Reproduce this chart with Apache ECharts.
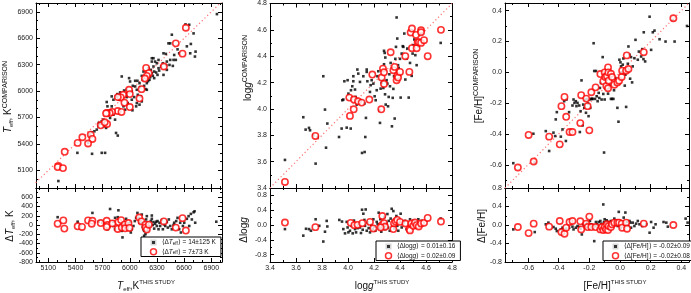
<!DOCTYPE html>
<html><head><meta charset="utf-8">
<script src="https://cdn.jsdelivr.net/npm/echarts@6.0.0/dist/echarts.min.js"></script>
<style>html,body{margin:0;padding:0;background:#fff}#c{width:691px;height:293px}</style>
</head><body><div id="c"></div>
<script>
// ---------- DATA ----------
// Panel 1: Teff (K)
const teffTopAll = [[6962,6874],[6615,6757],[6656,6753],[6704,6655],[6464,6640],[6674,6535],[6630,6508],[6427,6542],[6446,6542],[6527,6474],[6726,6448],[6719,6392],[6667,6429],[6545,6429],[6490,6410],[6398,6422],[6483,6354],[6508,6354],[6446,6354],[6409,6335],[6365,6316],[6402,6294],[6438,6297],[6475,6286],[6317,6354],[6280,6335],[6243,6335],[6298,6316],[6317,6260],[6261,6279],[6232,6241],[6269,6222],[6243,6203],[6291,6211],[6254,6173],[6225,6158],[6269,6147],[6217,6128],[6151,6222],[6132,6173],[6143,6128],[6188,6090],[6202,6113],[6306,6184],[6372,6184],[6409,6241],[5911,6166],[5992,6147],[6003,6109],[6059,6117],[6084,6117],[6107,6090],[6033,6060],[6059,6053],[6114,6045],[6158,6060],[6173,6023],[6188,6015],[6077,6015],[6022,5996],[5966,6015],[5937,6007],[5893,5985],[5863,5966],[5848,5940],[5800,5940],[5819,5902],[5878,5902],[5966,5932],[6022,5902],[6048,5932],[6088,5958],[6121,5940],[6077,5864],[6107,5846],[6132,5883],[6029,5782],[6070,5827],[5977,5864],[5948,5789],[5930,5827],[5745,5876],[5753,5827],[5800,5827],[5819,5733],[5782,5695],[5837,5676],[5708,5676],[5690,5657],[5671,5631],[5727,5620],[5738,5582],[5653,5601],[5635,5563],[5609,5544],[5579,5533],[5554,5507],[5572,5488],[5539,5412],[5421,5299],[5583,5288],[5690,5299],[5727,5299],[5848,5525],[5867,5495],[5211,4979],[6243,6373],[6261,6373],[6372,6429],[5657,5638],[5712,5601],[6324,6233],[6346,6279],[6206,6260],[5966,5958]];
const teffTopSel = [[6619,6719],[6508,6542],[6582,6425],[6376,6279],[6180,6263],[6210,6203],[6188,6173],[6166,6143],[6129,6022],[5992,6015],[6000,5966],[6107,5917],[5926,5958],[5900,5928],[5867,5932],[5941,5868],[6000,5819],[5867,5774],[5908,5763],[5804,5763],[5778,5751],[5745,5751],[5738,5747],[5749,5627],[5679,5612],[5723,5646],[5568,5506],[5587,5457],[5476,5476],[5539,5405],[5424,5412],[5281,5311],[5211,5149],[5203,5137],[5262,5126]];
const teffResAll = [[5203,169],[5424,71],[5587,261],[5657,71],[5697,49],[5738,28],[5782,346],[5753,-92],[5819,71],[5819,-21],[5867,169],[5874,318],[5919,-268],[5911,-127],[5930,49],[5959,134],[5985,35],[6003,64],[6011,-162],[6022,-92],[6040,-21],[6055,85],[6070,155],[6084,261],[6096,155],[6107,49],[6114,134],[6132,226],[6132,49],[6143,-42],[6151,-92],[6158,-127],[6180,120],[6188,191],[6202,49],[6217,-21],[6232,85],[6243,134],[6254,0],[6261,64],[6269,-78],[6280,28],[6291,71],[6298,-21],[6306,85],[6317,-92],[6328,49],[6335,-21],[6354,106],[6365,-92],[6379,14],[6391,-21],[6409,64],[6420,-56],[6431,120],[6446,-21],[6464,-92],[6483,0],[6490,49],[6512,85],[6527,155],[6545,-92],[6556,49],[6564,-162],[6586,-21],[6601,49],[6630,134],[6649,191],[6656,-21],[6674,240],[6685,120],[6704,275],[6715,297],[6722,49],[6955,71],[6243,205],[6195,-127],[6173,-198],[6158,-233],[5930,-56],[5837,-92],[5837,155]];
const teffResSel = [[5203,28],[5266,99],[5277,-78],[5424,-28],[5472,-42],[5539,99],[5587,92],[5579,28],[5679,42],[5745,92],[5753,0],[5745,-42],[5808,35],[5867,-85],[5874,64],[5904,106],[5911,-56],[5944,14],[5948,-71],[5985,42],[5996,-64],[6103,162],[6129,78],[6173,7],[6173,-56],[6188,-99],[6210,7],[6376,78],[6508,-56],[6582,148],[6619,-120]];
const teffTicks = [5100,5400,5700,6000,6300,6600,6900];
const teffMinor = [5000,5200,5300,5500,5600,5800,5900,6100,6200,6400,6500,6700,6800,7000];
const teffResTicks = [-800,-600,-400,-200,0,200,400,600];
const teffResMinor = [-700,-500,-300,-100,100,300,500,700];

// Panel 2: log g
const loggTopAll = [[3.515,3.613],[3.656,3.937],[3.674,3.843],[3.708,3.838],[3.700,3.856],[3.733,3.800],[3.767,3.787],[3.751,3.585],[3.810,4.248],[3.823,3.995],[3.831,3.706],[3.841,3.889],[3.931,3.787],[3.951,3.851],[3.956,4.066],[3.964,4.071],[3.972,4.210],[3.997,4.218],[3.990,3.858],[4.003,4.116],[4.021,3.851],[4.023,4.142],[4.033,4.172],[4.041,4.210],[4.041,4.248],[4.054,4.147],[4.059,4.091],[4.067,4.033],[4.072,4.299],[4.079,4.268],[4.092,4.205],[4.100,4.066],[4.108,3.666],[4.118,4.248],[4.126,4.041],[4.128,3.673],[4.133,3.787],[4.138,3.932],[4.144,4.281],[4.149,4.210],[4.144,4.299],[4.169,4.129],[4.174,4.180],[4.182,4.218],[4.195,4.192],[4.205,4.096],[4.213,4.066],[4.221,4.142],[4.226,4.248],[4.233,4.286],[4.241,3.990],[4.246,3.894],[4.251,4.154],[4.259,4.197],[4.267,4.218],[4.272,4.159],[4.277,4.339],[4.277,4.441],[4.282,4.425],[4.287,4.390],[4.285,4.111],[4.290,4.033],[4.292,4.205],[4.297,4.218],[4.303,4.192],[4.308,4.020],[4.313,4.091],[4.318,4.263],[4.323,4.172],[4.328,4.349],[4.338,3.868],[4.344,4.084],[4.349,4.152],[4.354,4.248],[4.359,3.927],[4.364,4.380],[4.369,4.471],[4.374,4.694],[4.379,4.534],[4.385,4.332],[4.390,4.311],[4.400,4.380],[4.405,4.086],[4.413,4.420],[4.421,4.476],[4.426,4.471],[4.433,4.572],[4.441,4.223],[4.451,4.382],[4.456,4.458],[4.467,4.086],[4.477,4.349],[4.490,4.251],[4.497,4.420],[4.503,4.484],[4.510,4.527],[4.518,4.408],[4.528,4.332],[4.541,4.476],[4.554,4.491],[4.567,4.572],[4.713,4.501]];
const loggTopSel = [[3.515,3.446],[3.749,3.795],[4.015,3.947],[4.010,4.086],[4.046,4.071],[4.077,4.058],[4.105,4.048],[4.044,3.997],[4.164,4.071],[4.187,4.261],[4.256,3.997],[4.259,4.238],[4.269,4.306],[4.277,4.278],[4.277,4.190],[4.328,4.430],[4.349,4.294],[4.359,4.319],[4.374,4.218],[4.379,4.251],[4.385,4.238],[4.400,4.281],[4.441,4.400],[4.472,4.281],[4.482,4.580],[4.492,4.610],[4.492,4.461],[4.523,4.562],[4.528,4.461],[4.536,4.506],[4.546,4.506],[4.562,4.597],[4.562,4.582],[4.562,4.501],[4.585,4.522],[4.613,4.400],[4.715,4.600]];
const loggResAll = [[3.515,-0.111],[3.656,-0.288],[3.677,-0.102],[3.700,-0.111],[3.715,-0.155],[3.751,0.155],[3.779,-0.022],[3.810,-0.447],[3.823,-0.181],[3.836,0.111],[3.841,-0.040],[3.933,0.137],[3.954,0.093],[3.964,-0.111],[3.977,-0.226],[3.990,0.084],[3.997,-0.066],[4.003,-0.199],[4.015,-0.155],[4.028,-0.022],[4.036,-0.226],[4.046,0.119],[4.054,-0.111],[4.062,-0.199],[4.074,-0.084],[4.087,0.040],[4.092,-0.066],[4.100,-0.217],[4.108,0.412],[4.113,-0.128],[4.118,0.305],[4.126,0.137],[4.131,-0.022],[4.136,0.420],[4.144,-0.155],[4.151,0.066],[4.159,-0.084],[4.169,-0.199],[4.179,0.004],[4.190,-0.111],[4.195,0.155],[4.203,-0.049],[4.210,-0.155],[4.221,0.084],[4.228,0.022],[4.236,0.332],[4.241,-0.084],[4.249,0.155],[4.256,-0.181],[4.267,0.084],[4.272,-0.022],[4.279,0.217],[4.287,-0.111],[4.295,0.049],[4.303,0.296],[4.308,-0.066],[4.313,0.111],[4.321,-0.155],[4.328,0.173],[4.336,0.438],[4.341,-0.022],[4.349,0.376],[4.356,-0.093],[4.364,0.155],[4.372,0.243],[4.379,-0.022],[4.387,-0.155],[4.395,0.066],[4.405,0.305],[4.413,-0.066],[4.426,0.049],[4.438,0.111],[4.451,-0.111],[4.464,0.022],[4.477,0.155],[4.490,-0.066],[4.503,0.111],[4.515,0.004],[4.528,0.084],[4.541,0.155],[4.554,-0.022],[4.567,0.111],[4.713,0.173]];
const loggResSel = [[3.515,0.066],[3.749,-0.058],[4.021,0.058],[4.049,-0.004],[4.074,0.004],[4.110,0.049],[4.169,0.084],[4.195,-0.093],[4.264,0.243],[4.262,0.004],[4.277,0.049],[4.285,-0.049],[4.349,-0.111],[4.354,0.049],[4.367,0.093],[4.379,0.137],[4.400,0.084],[4.441,0.040],[4.472,-0.111],[4.477,-0.146],[4.487,0.040],[4.503,-0.022],[4.515,0.066],[4.528,-0.004],[4.544,-0.040],[4.562,0.040],[4.585,0.058],[4.613,0.190],[4.715,0.093],[4.251,-0.066]];
const loggTicks = [3.4,3.6,3.8,4.0,4.2,4.4,4.6,4.8];
const loggMinor = [3.5,3.7,3.9,4.1,4.3,4.5,4.7];
const loggResTicks = [-0.8,-0.4,0,0.4,0.8];
const loggResMinor = [-0.6,-0.2,0.2,0.6];

// Panel 3: [Fe/H]
const fehTopAll = [[-0.696,-0.589],[-0.556,-0.585],[-0.565,-0.398],[-0.484,-0.381],[-0.462,-0.510],[-0.434,-0.391],[-0.419,-0.305],[-0.423,-0.413],[-0.412,-0.258],[-0.386,-0.417],[-0.375,-0.370],[-0.364,-0.187],[-0.353,-0.445],[-0.349,-0.176],[-0.332,-0.258],[-0.310,-0.215],[-0.303,-0.176],[-0.297,-0.198],[-0.288,-0.187],[-0.284,-0.219],[-0.277,-0.198],[-0.266,-0.215],[-0.262,-0.387],[-0.257,-0.252],[-0.251,-0.052],[-0.244,-0.344],[-0.240,-0.209],[-0.233,-0.230],[-0.227,-0.176],[-0.222,-0.262],[-0.214,-0.172],[-0.209,-0.202],[-0.205,-0.284],[-0.200,-0.176],[-0.194,-0.230],[-0.187,-0.172],[-0.183,-0.172],[-0.179,-0.172],[-0.172,0.189],[-0.168,0.009],[-0.163,-0.172],[-0.157,0.009],[-0.152,-0.155],[-0.146,-0.187],[-0.139,-0.133],[-0.135,-0.166],[-0.131,-0.101],[-0.124,-0.069],[-0.120,-0.176],[-0.113,0.099],[-0.109,-0.140],[-0.104,-0.520],[-0.100,-0.176],[-0.096,-0.101],[-0.091,-0.069],[-0.087,-0.047],[-0.083,0.013],[-0.078,-0.138],[-0.074,-0.101],[-0.069,-0.037],[-0.065,-0.086],[-0.059,-0.172],[-0.052,-0.172],[-0.043,-0.172],[-0.039,-0.116],[-0.035,-0.080],[-0.030,-0.037],[-0.026,-0.058],[-0.017,-0.230],[-0.010,-0.320],[-0.004,0.082],[0.003,0.065],[0.007,0.039],[0.011,0.000],[0.018,0.050],[0.022,0.090],[0.027,0.017],[0.031,-0.086],[0.035,-0.015],[0.040,-0.224],[0.046,0.013],[0.051,0.056],[0.055,0.168],[0.062,0.114],[0.066,-0.041],[0.072,0.099],[0.079,-0.065],[0.083,0.039],[0.094,0.092],[0.101,0.211],[0.116,0.082],[0.123,0.135],[0.138,0.103],[0.145,0.151],[0.153,0.086],[0.164,0.071],[0.155,0.260],[0.193,0.361],[0.203,0.146],[0.214,0.260],[0.225,0.271],[0.258,0.215],[0.297,0.200],[0.345,0.340],[0.356,0.200],[0.437,0.301]];
const fehTopSel = [[-0.666,-0.617],[-0.596,-0.406],[-0.563,-0.578],[-0.462,-0.417],[-0.393,-0.467],[-0.382,-0.219],[-0.362,-0.159],[-0.351,-0.288],[-0.329,-0.387],[-0.310,-0.387],[-0.259,-0.329],[-0.253,-0.148],[-0.220,-0.170],[-0.211,-0.219],[-0.200,-0.376],[-0.187,-0.129],[-0.159,-0.097],[-0.128,-0.011],[-0.109,-0.058],[-0.100,0.000],[-0.096,-0.030],[-0.089,-0.088],[-0.085,-0.024],[-0.078,0.032],[-0.076,0.000],[-0.078,-0.103],[-0.074,-0.054],[-0.059,-0.009],[-0.052,-0.030],[-0.037,-0.080],[-0.017,-0.065],[-0.006,-0.054],[0.011,-0.030],[0.014,0.011],[0.040,0.011],[0.055,0.022],[0.044,0.110],[0.155,0.131],[0.348,0.351]];
const fehResAll = [[-0.696,-0.095],[-0.556,-0.153],[-0.484,0.015],[-0.467,0.051],[-0.434,-0.044],[-0.419,-0.080],[-0.412,-0.131],[-0.386,-0.095],[-0.375,-0.058],[-0.353,-0.080],[-0.332,-0.058],[-0.310,-0.036],[-0.303,-0.095],[-0.288,-0.058],[-0.277,-0.022],[-0.266,-0.044],[-0.257,-0.080],[-0.249,-0.204],[-0.240,0.015],[-0.231,-0.022],[-0.222,-0.058],[-0.214,0.051],[-0.205,-0.022],[-0.196,0.087],[-0.187,0.015],[-0.179,-0.058],[-0.172,-0.044],[-0.168,-0.349],[-0.161,-0.022],[-0.157,0.065],[-0.150,0.015],[-0.146,-0.080],[-0.139,0.065],[-0.135,-0.022],[-0.128,0.087],[-0.122,0.029],[-0.113,-0.007],[-0.109,0.444],[-0.104,0.065],[-0.100,0.124],[-0.096,0.029],[-0.091,-0.022],[-0.087,0.102],[-0.080,0.051],[-0.074,0.065],[-0.065,-0.007],[-0.059,0.087],[-0.052,-0.022],[-0.043,0.065],[-0.037,0.138],[-0.030,0.029],[-0.021,0.087],[-0.015,-0.022],[-0.008,0.284],[-0.002,0.087],[0.005,-0.058],[0.011,0.015],[0.018,0.065],[0.024,0.160],[0.031,-0.058],[0.035,0.269],[0.040,-0.007],[0.046,0.065],[0.053,-0.022],[0.062,0.087],[0.068,0.051],[0.072,-0.058],[0.083,0.051],[0.094,-0.022],[0.105,0.029],[0.116,0.087],[0.127,0.015],[0.145,-0.022],[0.171,0.015],[0.193,-0.167],[0.203,0.065],[0.219,-0.058],[0.232,0.015],[0.284,0.065],[0.302,0.051],[0.312,-0.036],[0.428,0.138],[0.441,0.051]];
const fehResSel = [[-0.666,-0.044],[-0.596,-0.175],[-0.563,0.029],[-0.462,-0.036],[-0.393,0.087],[-0.382,-0.153],[-0.362,-0.189],[-0.351,-0.058],[-0.329,0.065],[-0.310,0.087],[-0.259,0.080],[-0.253,-0.095],[-0.220,0.029],[-0.211,-0.044],[-0.200,0.182],[-0.187,-0.044],[-0.159,-0.044],[-0.128,-0.095],[-0.118,-0.044],[-0.109,-0.109],[-0.100,-0.044],[-0.091,-0.095],[-0.085,0.015],[-0.078,-0.109],[-0.074,-0.022],[-0.059,-0.044],[-0.052,0.015],[-0.037,0.051],[-0.017,0.051],[-0.006,0.051],[0.011,0.029],[0.014,-0.058],[0.040,0.051],[0.046,-0.080],[0.155,0.029],[0.348,0.000]];
const fehTicks = [-0.6,-0.4,-0.2,0,0.2,0.4];
const fehMinor = [-0.7,-0.5,-0.3,-0.1,0.1,0.3];
const fehResTicks = [-0.8,-0.4,0,0.4,0.8];
const fehResMinor = [-0.6,-0.2,0.2,0.6];

const legendText = {
  tA: '{t|⟨Δ}{i|T}{s|eff}{t|⟩ = 14±125 K}',
  tS: '{t|⟨Δ}{i|T}{s|eff}{t|⟩ = 7±73 K}',
  gA: '{t|⟨Δlog}{i|g}{t|⟩ = 0.01±0.16}',
  gS: '{t|⟨Δlog}{i|g}{t|⟩ = 0.02±0.09}',
  fA: '{t|⟨Δ[Fe/H]⟩ = -0.02±0.09}',
  fS: '{t|⟨Δ[Fe/H]⟩ = -0.02±0.08}'
};

// ---------- LAYOUT / STYLE ----------
const FONT = '"Liberation Sans", Arial, sans-serif';
const RED = '#ff0000';
const panels = [
  {left:36, width:186, xr:[4964,7018], yr:[4900,7000], rr:[-800,800], xt:teffTicks, xm:teffMinor, yrt:teffResTicks, yrm:teffResMinor, fmt:v=>String(Math.round(v)), rfmt:v=>String(Math.round(v)),
   top:[teffTopAll,teffTopSel], res:[teffResAll,teffResSel], names:['tA','tS'], leg:{left:141, top:237}},
  {left:270, width:182, xr:[3.4,4.8], yr:[3.4,4.8], rr:[-1,1], xt:loggTicks, xm:loggMinor, yrt:loggResTicks, yrm:loggResMinor, fmt:v=>v.toFixed(1), rfmt:v=>v.toFixed(1),
   top:[loggTopAll,loggTopSel], res:[loggResAll,loggResSel], names:['gA','gS'], leg:{left:376, top:241}},
  {left:505, width:184, xr:[-0.75,0.45], yr:[-0.75,0.45], rr:[-0.8,0.8], xt:fehTicks, xm:fehMinor, yrt:fehResTicks, yrm:fehResMinor, fmt:v=>v.toFixed(1), rfmt:v=>v.toFixed(1),
   top:[fehTopAll,fehTopSel], res:[fehResAll,fehResSel], names:['fA','fS'], leg:{left:603, top:241}}
];
const TOP = 3, TOPH = 185, BOTH = 74;

const grid = [], xAxis = [], yAxis = [], series = [], legend = [];

function addAxes(list, gi, dim, range, majors, minors, showLabel, fmt) {
  const pos = dim === 'x' ? ['bottom','top'] : ['left','right'];
  let first = -1;
  pos.forEach((p, pi) => {
    [[majors, 4], [minors, 2]].forEach(([vals, len], mi) => {
      const idx = list.length;
      if (first < 0) first = idx;
      list.push({
        type:'value', gridIndex:gi, min:range[0], max:range[1], position:p,
        axisLine:{show: mi===0, onZero:false, lineStyle:{color:'#000', width:1}},
        axisTick:{show:true, inside:true, length:len, customValues:vals, lineStyle:{color:'#000', width:1}},
        axisLabel:{show: showLabel && pi===0 && mi===0, customValues:vals, formatter:fmt,
          fontSize:7, color:'#222', margin:3, fontFamily:FONT},
        splitLine:{show:false}, minorTick:{show:false}
      });
    });
  });
  return first;
}

panels.forEach((P, k) => {
  const gTop = grid.length;
  grid.push({left:P.left, width:P.width, top:TOP, height:TOPH, show:false});
  const gBot = grid.length;
  grid.push({left:P.left, width:P.width, top:TOP+TOPH, height:BOTH, show:false});
  const xT = addAxes(xAxis, gTop, 'x', P.xr, P.xt, P.xm, false, P.fmt);
  const yT = addAxes(yAxis, gTop, 'y', P.yr, P.xt, P.xm, true, P.fmt);
  const xB = addAxes(xAxis, gBot, 'x', P.xr, P.xt, P.xm, true, P.fmt);
  const yB = addAxes(yAxis, gBot, 'y', P.rr, P.yrt, P.yrm, true, P.rfmt);
  const lo = Math.min(P.xr[0], P.yr[0]), hi = Math.max(P.xr[1], P.yr[1]);
  series.push({type:'line', xAxisIndex:xT, yAxisIndex:yT, data:[[lo,lo],[hi,hi]], symbol:'none', silent:true,
    lineStyle:{color:'#ff7070', width:1.2, type:[1.2,2.6]}, z:1});
  const blk = {symbol:'rect', symbolSize:2.6, itemStyle:{color:'#000'}, z:2};
  const red = {symbol:'circle', symbolSize:6.3, itemStyle:{color:'#fff', borderColor:RED, borderWidth:1.6}, z:3};
  series.push(Object.assign({type:'scatter', name:P.names[0]+'_top', xAxisIndex:xT, yAxisIndex:yT, data:P.top[0]}, blk));
  series.push(Object.assign({type:'scatter', name:P.names[1]+'_top', xAxisIndex:xT, yAxisIndex:yT, data:P.top[1]}, red));
  series.push(Object.assign({type:'scatter', name:P.names[0], xAxisIndex:xB, yAxisIndex:yB, data:P.res[0]}, blk));
  series.push(Object.assign({type:'scatter', name:P.names[1], xAxisIndex:xB, yAxisIndex:yB, data:P.res[1]}, red));
  legend.push({
    left:P.leg.left, top:P.leg.top, orient:'vertical', selectedMode:false,
    borderColor:'#000', borderWidth:1, borderRadius:0, backgroundColor:'#fff',
    padding:[1,5,1,8], itemGap:1, itemWidth:6, itemHeight:6,
    data:[{name:P.names[0], icon:'rect', itemStyle:{color:'#000', borderColor:'#fff', borderWidth:3}},
          {name:P.names[1], icon:'circle', itemStyle:{color:'#fff', borderColor:RED, borderWidth:1.5}}],
    formatter: n => legendText[n],
    textStyle:{fontSize:6.5, color:'#111', fontFamily:FONT, rich:{
      t:{fontSize:6.5, fontFamily:FONT, color:'#111'},
      i:{fontSize:6.5, fontFamily:FONT, fontStyle:'italic', color:'#111'},
      s:{fontSize:4.5, fontFamily:FONT, color:'#111', verticalAlign:'bottom', lineHeight:5}
    }}
  });
});

// ---------- TITLES ----------
const rich = {
  n:{fontSize:10, fontFamily:FONT, color:'#111', lineHeight:13},
  i:{fontSize:10, fontFamily:FONT, fontStyle:'italic', color:'#111', lineHeight:13},
  sub:{fontSize:6, fontFamily:FONT, color:'#111', lineHeight:6, verticalAlign:'bottom'},
  sup:{fontSize:6, fontFamily:FONT, color:'#111', lineHeight:6, verticalAlign:'top'},
  supL:{fontSize:7, fontFamily:FONT, color:'#111', lineHeight:7, verticalAlign:'top'}
};
function title(text, x, y, rot) {
  return {type:'text', x:x, y:y, rotation: rot ? Math.PI/2 : 0, silent:true, z:10,
    style:{text:text, rich:rich, align:'center', verticalAlign:'middle', fill:'#111', font:'10px '+FONT}};
}
const graphic = [
  title('{i|T}{sub|eff}{n|, K}{supL|COMPARISON}', 8, 97, true),
  title('{n|Δ}{i|T}{sub|eff}{n|, K}', 10, 226, true),
  title('{i|T}{sub|eff}{n|,K}{sup|THIS STUDY}', 146, 286, false),
  title('{n|log}{i|g}{supL|COMPARISON}', 248, 68, true),
  title('{n|Δlog}{i|g}', 244, 230, true),
  title('{n|log}{i|g}{sup|THIS STUDY}', 382, 286, false),
  title('{n|[Fe/H]}{supL|COMPARISON}', 479, 86, true),
  title('{n|Δ[Fe/H]}', 482, 226, true),
  title('{n|[Fe/H]}{sup|THIS STUDY}', 615, 286, false)
];

const chart = echarts.init(document.getElementById('c'), null, {renderer:'canvas'});
chart.setOption({animation:false, backgroundColor:'#fff', grid, xAxis, yAxis, series, legend, graphic});
</script></body></html>
